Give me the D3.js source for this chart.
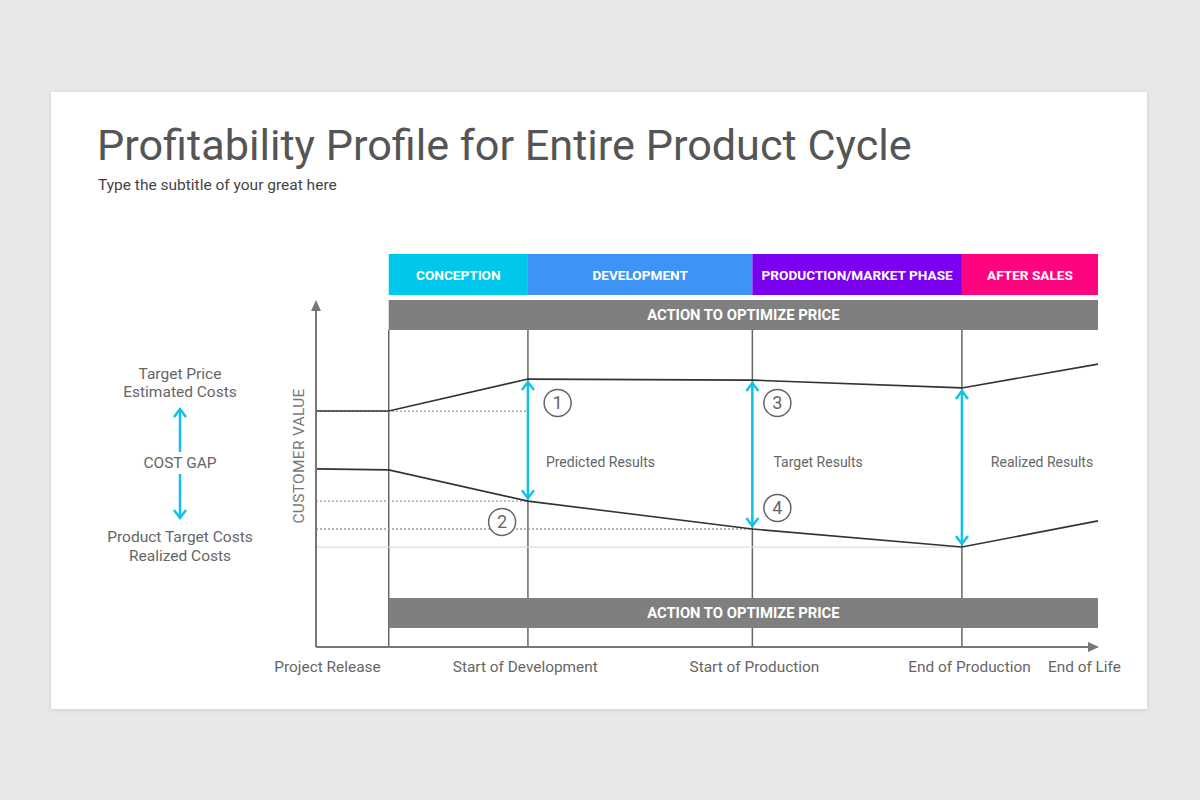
<!DOCTYPE html>
<html>
<head>
<meta charset="utf-8">
<script src="https://cdn.jsdelivr.net/npm/d3@7"></script>
<style>
  html, body { margin: 0; padding: 0; background: #e9e8e9; }
  svg { display: block; font-family: Roboto, "Noto Sans", sans-serif; }
</style>
</head>
<body>
<div id="container"></div>
<script>
/* ---------------- DATA ---------------- */
const phases = ["CONCEPTION", "DEVELOPMENT", "PRODUCTION/MARKET PHASE", "AFTER SALES"];
const phaseStart = [9.3, 27.1, 55.8, 82.6];
const phaseEnd = [27.1, 55.8, 82.6, 100];
const phaseColors = ["#00c8ec", "#3d94f4", "#7a00ef", "#fe0580"];

const milestones = [9.3, 27.1, 55.8, 82.6];
const tickLabels = ["Project Release", "Start of Development", "Start of Production", "End of Production", "End of Life"];
const tickPos = [1.4, 26.7, 56.0, 83.5, 98.2];

const timeValues = [0, 9.3, 27.1, 55.8, 82.6, 100];
const priceValues = [69.4, 69.4, 78.8, 78.5, 76.2, 83.2];
const costValues = [52.4, 52.1, 42.9, 34.7, 29.4, 37.1];

const resultLabels = ["Predicted Results", "Target Results", "Realized Results"];
const resultAt = [27.1, 55.8, 82.6];
const resultTextX = [29.4, 58.5, 86.3];

const markers = ["1", "2", "3", "4"];
const markerT = [30.9, 23.8, 59.0, 59.0];
const markerV = [71.8, 36.8, 71.8, 40.9];

/* ---------------- LAYOUT ---------------- */
const W = 1200, H = 800;
const svg = d3.select("#container").append("svg")
  .attr("width", W).attr("height", H);

const defs = svg.append("defs");
const f = defs.append("filter").attr("id", "shadow")
  .attr("x", "-5%").attr("y", "-5%").attr("width", "110%").attr("height", "110%");
f.append("feDropShadow").attr("dx", 0).attr("dy", 1).attr("stdDeviation", 2)
  .attr("flood-color", "#000").attr("flood-opacity", 0.12);

svg.append("rect").attr("x", 51).attr("y", 92).attr("width", 1096).attr("height", 617)
  .attr("fill", "#fff").attr("filter", "url(#shadow)");

svg.append("text").attr("x", 97).attr("y", 160)
  .attr("font-size", 43.2).attr("fill", "#555").text("Profitability Profile for Entire Product Cycle");
svg.append("text").attr("x", 98).attr("y", 190)
  .attr("font-size", 15.5).attr("fill", "#444").text("Type the subtitle of your great here");

const x = d3.scaleLinear().domain([0, 100]).range([316, 1098]);
const y = d3.scaleLinear().domain([0, 100]).range([647, 307]);

/* ---------------- PHASE BAR ---------------- */
const ph = svg.append("g");
phases.forEach((p, i) => {
  ph.append("rect")
    .attr("x", x(phaseStart[i])).attr("y", 254)
    .attr("width", x(phaseEnd[i]) - x(phaseStart[i])).attr("height", 41)
    .attr("fill", phaseColors[i]);
  ph.append("text")
    .attr("x", (x(phaseStart[i]) + x(phaseEnd[i])) / 2).attr("y", 279.5)
    .attr("text-anchor", "middle").attr("font-size", 13.6).attr("font-weight", "bold")
    .attr("fill", "#fff").text(p);
});

/* ---------------- MILESTONE LINES ---------------- */
svg.selectAll(".ms").data(milestones).enter().append("line")
  .attr("x1", d => x(d)).attr("x2", d => x(d))
  .attr("y1", 330).attr("y2", 647)
  .attr("stroke", "#666").attr("stroke-width", 1.5);

/* ---------------- ACTION BARS ---------------- */
[300, 598].forEach(top => {
  svg.append("rect").attr("x", x(9.3)).attr("y", top)
    .attr("width", x(100) - x(9.3)).attr("height", 30).attr("fill", "#7f7f7f");
  svg.append("text").attr("x", (x(9.3) + x(100)) / 2).attr("y", top + 20)
    .attr("text-anchor", "middle").attr("font-size", 14.8).attr("font-weight", "bold")
    .attr("fill", "#fff").text("ACTION TO OPTIMIZE PRICE");
});

/* ---------------- REFERENCE LINES ---------------- */
const dotted = [[priceValues[1], timeValues[2]], [costValues[2], timeValues[2]], [costValues[3], timeValues[3]]];
dotted.forEach(([v, t]) => {
  svg.append("line").attr("x1", x(0)).attr("x2", x(t))
    .attr("y1", y(v)).attr("y2", y(v))
    .attr("stroke", "#999").attr("stroke-width", 1.3).attr("stroke-dasharray", "2,2");
});
svg.append("line").attr("x1", x(0)).attr("x2", x(82.6))
  .attr("y1", y(costValues[4])).attr("y2", y(costValues[4]))
  .attr("stroke", "#ddd").attr("stroke-width", 1.3);

/* ---------------- CURVES ---------------- */
const line = d3.line().x(d => x(d[0])).y(d => y(d[1]));
[priceValues, costValues].forEach(vals => {
  svg.append("path").datum(timeValues.map((t, i) => [t, vals[i]]))
    .attr("d", line).attr("fill", "none").attr("stroke", "#333").attr("stroke-width", 1.6);
});

/* ---------------- ARROWS ---------------- */
const cyan = "#14c1e6";
function dblArrow(g, x0, y1, y2) {
  g.append("line").attr("x1", x0).attr("x2", x0).attr("y1", y1).attr("y2", y2)
    .attr("stroke", cyan).attr("stroke-width", 2.5);
  g.append("path").attr("d", `M${x0 - 6},${y1 + 8} L${x0},${y1} L${x0 + 6},${y1 + 8}`)
    .attr("fill", "none").attr("stroke", cyan).attr("stroke-width", 2.5);
  g.append("path").attr("d", `M${x0 - 6},${y2 - 8} L${x0},${y2} L${x0 + 6},${y2 - 8}`)
    .attr("fill", "none").attr("stroke", cyan).attr("stroke-width", 2.5);
}
const ag = svg.append("g");
resultAt.forEach((t, i) => {
  const k = timeValues.indexOf(t);
  dblArrow(ag, x(t), y(priceValues[k]) + 3, y(costValues[k]) - 3);
  svg.append("text").attr("x", x(resultTextX[i])).attr("y", 467)
    .attr("font-size", 14).attr("fill", "#666").text(resultLabels[i]);
});

/* ---------------- MARKERS ---------------- */
markers.forEach((m, i) => {
  svg.append("circle").attr("cx", x(markerT[i])).attr("cy", y(markerV[i])).attr("r", 13.5)
    .attr("fill", "#fff").attr("stroke", "#666").attr("stroke-width", 1.5);
  svg.append("text").attr("x", x(markerT[i])).attr("y", y(markerV[i]) + 6.5)
    .attr("text-anchor", "middle").attr("font-size", 18).attr("fill", "#666").text(m);
});

/* ---------------- AXES ---------------- */
svg.append("line").attr("x1", 316).attr("x2", 316).attr("y1", 647).attr("y2", 308)
  .attr("stroke", "#777").attr("stroke-width", 2);
svg.append("path").attr("d", "M311,311 L316,300 L321,311 Z").attr("fill", "#777");
svg.append("line").attr("x1", 316).attr("x2", 1090).attr("y1", 647).attr("y2", 647)
  .attr("stroke", "#777").attr("stroke-width", 2);
svg.append("path").attr("d", "M1088,642 L1099,647 L1088,652 Z").attr("fill", "#777");

const xAxis = d3.axisBottom(x).tickValues(tickPos).tickSize(0)
  .tickFormat((d, i) => tickLabels[i]);
const xg = svg.append("g").attr("transform", "translate(0,658)").call(xAxis);
xg.select(".domain").remove();
xg.selectAll("text").attr("font-size", 15.4).attr("fill", "#666")
  .attr("font-family", "Roboto, sans-serif");

svg.append("text").attr("transform", "translate(304,456) rotate(-90)")
  .attr("text-anchor", "middle").attr("font-size", 15.5).attr("fill", "#777")
  .attr("letter-spacing", 0.3).text("CUSTOMER VALUE");

/* ---------------- LEFT LEGEND ---------------- */
const lg = svg.append("g").attr("font-size", 15.5).attr("fill", "#666").attr("text-anchor", "middle");
[["Target Price", 379], ["Estimated Costs", 397], ["COST GAP", 468], ["Product Target Costs", 542], ["Realized Costs", 561]]
  .forEach(([t, yy]) => lg.append("text").attr("x", 180).attr("y", yy).text(t));
const lgA = svg.append("g");
lgA.append("line").attr("x1", 180).attr("x2", 180).attr("y1", 409).attr("y2", 452)
  .attr("stroke", cyan).attr("stroke-width", 2.5);
lgA.append("path").attr("d", "M174,417 L180,409 L186,417").attr("fill", "none").attr("stroke", cyan).attr("stroke-width", 2.5);
lgA.append("line").attr("x1", 180).attr("x2", 180).attr("y1", 474).attr("y2", 518)
  .attr("stroke", cyan).attr("stroke-width", 2.5);
lgA.append("path").attr("d", "M174,510 L180,518 L186,510").attr("fill", "none").attr("stroke", cyan).attr("stroke-width", 2.5);
</script>
</body>
</html>
